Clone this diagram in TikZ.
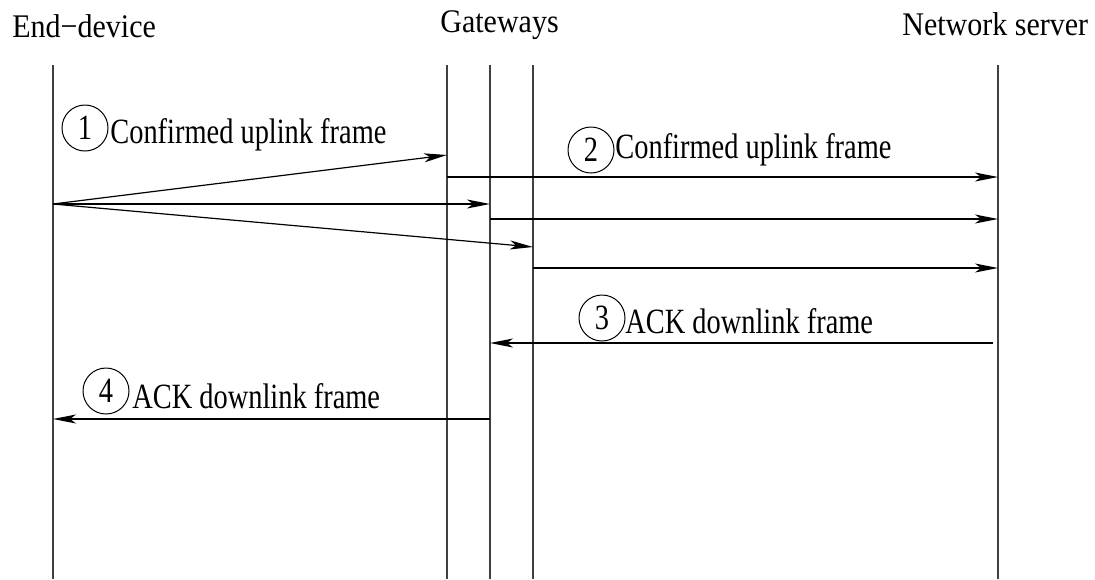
\documentclass[tikz,border=0pt]{standalone}
\usepackage{fontspec}
\setmainfont{Liberation Serif}
\usetikzlibrary{arrows.meta}
\newcommand{\tallbox}[1]{\scalebox{1}[1.25]{#1}}
\newcommand{\headbox}[1]{\scalebox{1}[1.1]{#1}}
\tikzset{
	life/.style={line width=0.6pt, draw=black!75},
	msg/.style={line width=0.6pt, -{Stealth[length=11.5pt,width=4.5pt,inset=3pt]}},
	head/.style={inner sep=0pt, anchor=base west, font=\fontsize{15}{18}\selectfont},
	lbl/.style={inner sep=0pt, anchor=base west, font=\fontsize{14.2}{17}\selectfont},
	num/.style={circle, draw, line width=0.5pt, minimum size=23pt, inner sep=0pt, font=\fontsize{14.2}{17}\selectfont}
}
\begin{document}
\begin{tikzpicture}[x=0.5pt,y=-0.5pt]
	\useasboundingbox (0,0) rectangle (1095,579);
	
	\node[head] at (12,37) (ed) {\headbox{End−device}};
	\node[head] at (440,32) (gw) {\headbox{Gateways}};
	\node[head] at (902,35) (ns) {\headbox{Network server}};
	
	% lifelines
	\coordinate (edT) at (53,65);   \coordinate (edB) at (53,579);
	\coordinate (g1T) at (447,65);  \coordinate (g1B) at (447,579);
	\coordinate (g2T) at (490,65);  \coordinate (g2B) at (490,579);
	\coordinate (g3T) at (533,65);  \coordinate (g3B) at (533,579);
	\coordinate (nsT) at (998,65);  \coordinate (nsB) at (998,579);
	\draw[life] (edT) -- (edB);
	\draw[life] (g1T) -- (g1B);
	\draw[life] (g2T) -- (g2B);
	\draw[life] (g3T) -- (g3B);
	\draw[life] (nsT) -- (nsB);
	
	% uplink to the gateways
	\coordinate (up) at (53,204);
	\coordinate (g1in) at (447,155);
	\coordinate (g2in) at (490,204);
	\coordinate (g3in) at (533,247);
	\draw[msg] (up) -- (g1in);
	\draw[msg] (up) -- (g2in);
	\draw[msg] (up) -- (g3in);
	
	% gateways to network server
	\coordinate (g1out) at (447,177);  \coordinate (ns1) at (998,177);
	\coordinate (g2out) at (490,219);  \coordinate (ns2) at (998,219);
	\coordinate (g3out) at (533,268);  \coordinate (ns3) at (998,268);
	\draw[msg] (g1out) -- (ns1);
	\draw[msg] (g2out) -- (ns2);
	\draw[msg] (g3out) -- (ns3);
	
	% acknowledgement
	\coordinate (nsack) at (993,343);  \coordinate (g2ack) at (490,343);
	\coordinate (g2down) at (490,419); \coordinate (edack) at (53,419);
	\draw[msg] (nsack) -- (g2ack);
	\draw[msg] (g2down) -- (edack);
	
	\node[num] at (85,128) (c1) {\tallbox{1}};
	\node[lbl] at (110,143) (t1) {\tallbox{Confirmed uplink frame}};
	\node[num] at (591,150) (c2) {\tallbox{2}};
	\node[lbl] at (615,158) (t2) {\tallbox{Confirmed uplink frame}};
	\node[num] at (602,318) (c3) {\tallbox{3}};
	\node[lbl] at (625,333) (t3) {\tallbox{ACK downlink frame}};
	\node[num] at (106,391) (c4) {\tallbox{4}};
	\node[lbl] at (132,408) (t4) {\tallbox{ACK downlink frame}};
\end{tikzpicture}
\end{document}
